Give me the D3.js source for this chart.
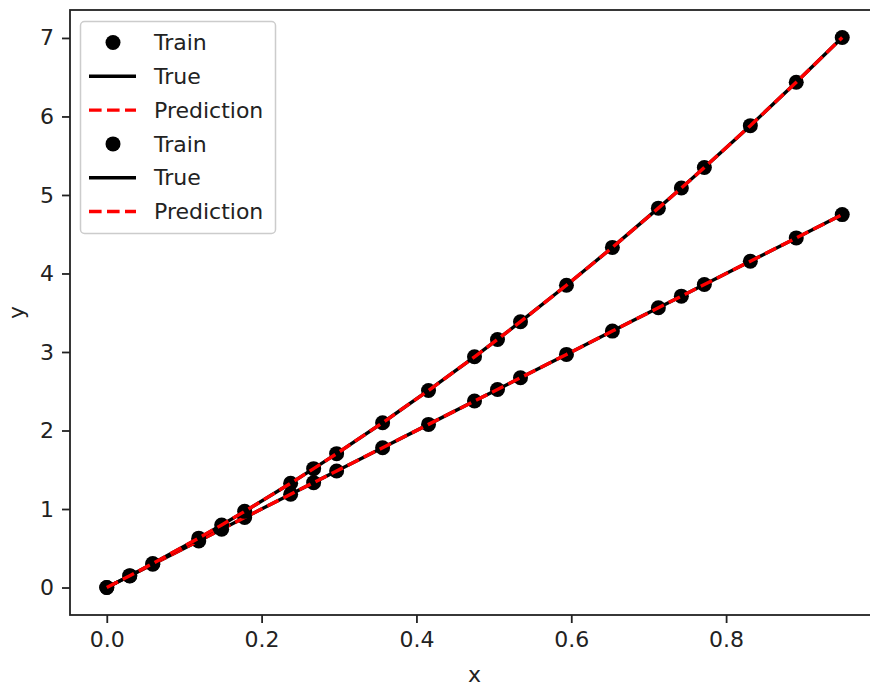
<!DOCTYPE html>
<html>
<head>
<meta charset="utf-8">
<script src="https://cdn.jsdelivr.net/npm/d3@7"></script>
<style>
  body { margin: 0; background: #fff; }
  svg { display: block; }
  text { font-family: "DejaVu Sans", sans-serif; fill: #222; }
</style>
</head>
<body>
<script>
// values
var xTrain = [0, 0.0297, 0.0594, 0.1188, 0.1484, 0.1781, 0.2375, 0.2672, 0.2969, 0.3563, 0.4156,
              0.475, 0.5047, 0.5344, 0.5938, 0.6531, 0.7125, 0.7422, 0.7719, 0.8313, 0.8906, 0.95];
var yUpper = [0, 0.151, 0.306, 0.629, 0.797, 0.970, 1.328, 1.514, 1.705, 2.099, 2.510,
              2.939, 3.160, 3.386, 3.850, 4.332, 4.832, 5.088, 5.349, 5.883, 6.436, 7.006];
var yLower = [0, 0.148, 0.297, 0.594, 0.742, 0.891, 1.188, 1.336, 1.484, 1.781, 2.078,
              2.375, 2.523, 2.672, 2.969, 3.266, 3.563, 3.711, 3.859, 4.156, 4.453, 4.75];
var xTicks = [0, 0.2, 0.4, 0.6, 0.8];
var yTicks = [0, 1, 2, 3, 4, 5, 6, 7];
var legendLabels = ["Train", "True", "Prediction", "Train", "True", "Prediction"];

// plot area (right spine falls just outside the picture)
var W = 870, H = 686;
var axL = 70, axR = 879, axT = 10, axB = 615;
var fontSize = 22;

var svg = d3.select("body").append("svg")
    .attr("width", W)
    .attr("height", H);

var x = d3.scaleLinear().domain([-0.0475, 0.9975]).range([axL, axR]);
var y = d3.scaleLinear().domain([-0.35, 7.356]).range([axB, axT]);

var series = [yLower, yUpper];

var line = d3.line()
    .x(function(d) { return x(d[0]); })
    .y(function(d) { return y(d[1]); });

var plot = svg.append("g");

series.forEach(function(ys) {
    var pts = xTrain.map(function(v, i) { return [v, ys[i]]; });
    // Train
    plot.append("g").selectAll("circle")
        .data(pts)
        .enter().append("circle")
        .attr("cx", function(d) { return x(d[0]); })
        .attr("cy", function(d) { return y(d[1]); })
        .attr("r", 7.5)
        .attr("fill", "#000");
    // True
    plot.append("path")
        .datum(pts)
        .attr("d", line)
        .attr("fill", "none")
        .attr("stroke", "#000")
        .attr("stroke-width", 3.4);
    // Prediction
    plot.append("path")
        .datum(pts)
        .attr("d", line)
        .attr("fill", "none")
        .attr("stroke", "#ff0000")
        .attr("stroke-width", 3.4)
        .attr("stroke-dasharray", "12.6,5.4");
});

// axes
var xAxis = d3.axisBottom(x).tickValues(xTicks).tickFormat(d3.format(".1f"))
    .tickSize(8).tickPadding(8);
var yAxis = d3.axisLeft(y).tickValues(yTicks).tickFormat(d3.format("d"))
    .tickSize(8).tickPadding(8);

var gx = svg.append("g").attr("transform", "translate(0," + axB + ")").call(xAxis);
var gy = svg.append("g").attr("transform", "translate(" + axL + ",0)").call(yAxis);
[gx, gy].forEach(function(g) {
    g.select(".domain").remove();
    g.selectAll(".tick line").attr("stroke", "#222").attr("stroke-width", 1.8);
    g.selectAll(".tick text").attr("font-size", fontSize)
        .attr("font-family", "DejaVu Sans, sans-serif").attr("fill", "#222");
});

// spines
svg.append("rect")
    .attr("x", axL).attr("y", axT)
    .attr("width", axR - axL).attr("height", axB - axT)
    .attr("fill", "none")
    .attr("stroke", "#222")
    .attr("stroke-width", 1.8);

// axis labels
svg.append("text")
    .attr("x", (axL + axR) / 2).attr("y", 682)
    .attr("text-anchor", "middle")
    .attr("font-size", fontSize)
    .text("x");
svg.append("text")
    .attr("transform", "translate(24," + ((axT + axB) / 2) + ") rotate(-90)")
    .attr("text-anchor", "middle")
    .attr("font-size", fontSize)
    .text("y");

// legend
var lg = svg.append("g");
lg.append("rect")
    .attr("x", 80.5).attr("y", 21.5)
    .attr("width", 195).attr("height", 212)
    .attr("rx", 4)
    .attr("fill", "#fff").attr("fill-opacity", 0.8)
    .attr("stroke", "#ccc").attr("stroke-width", 1.5);

legendLabels.forEach(function(lab, i) {
    var cy = 42.5 + i * 33.8;
    var kind = i % 3;
    if (kind === 0) {
        lg.append("circle").attr("cx", 113).attr("cy", cy).attr("r", 7.5).attr("fill", "#000");
    } else {
        lg.append("line")
            .attr("x1", 89).attr("x2", 136).attr("y1", cy).attr("y2", cy)
            .attr("stroke", kind === 1 ? "#000" : "#ff0000")
            .attr("stroke-width", 3.4)
            .attr("stroke-dasharray", kind === 1 ? null : "12.6,5.4");
    }
    lg.append("text")
        .attr("x", 154).attr("y", cy)
        .attr("dy", "0.35em")
        .attr("font-size", fontSize)
        .text(lab);
});
</script>
</body>
</html>
